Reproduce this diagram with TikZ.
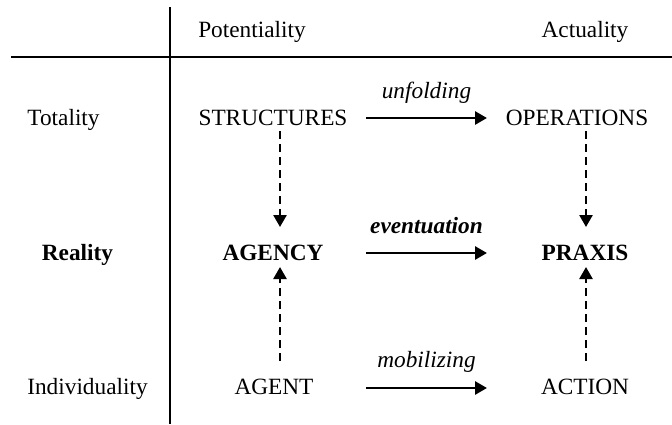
\documentclass[tikz,border=0pt]{standalone}
\usepackage{fontspec}
\setmainfont{Liberation Serif}
\usetikzlibrary{arrows.meta,calc}
\begin{document}
\begin{tikzpicture}[x=1pt,y=-1pt,
  txt/.style={inner sep=0pt,anchor=base,font=\fontsize{23.3}{28}\selectfont},
  rule/.style={line width=2.2pt},
  flow/.style={line width=2.8pt,-{Triangle[length=12pt,width=13pt]}},
  dasharrow/.style={line width=2.5pt,dash pattern=on 8pt off 5pt,-{Triangle[length=12pt,width=13pt]}}]
\useasboundingbox (0,0) rectangle (672,424);
% table rules
\coordinate (vtop) at (170,7);
\coordinate (vbot) at (170,424);
\coordinate (hl) at (11,57);
\coordinate (hr) at (672,57);
\draw[rule] (vtop) -- (vbot);
\draw[rule] (hl) -- (hr);
% headers
\node[txt] (pot) at (252,37) {Potentiality};
\node[txt] (act) at (585,37) {Actuality};
% row labels
\node[txt] (tot) at (63.5,125) {Totality};
\node[txt] (rea) at (77.5,260) {\bfseries Reality};
\node[txt] (ind) at (87.5,394) {Individuality};
% cells
\node[txt] (str) at (273,125) {STRUCTURES};
\node[txt] (opr) at (577,125) {OPERATIONS};
\node[txt] (agy) at (273,260) {\bfseries AGENCY};
\node[txt] (prx) at (585,260) {\bfseries PRAXIS};
\node[txt] (agt) at (274,394) {AGENT};
\node[txt] (acn) at (585,394) {ACTION};
% horizontal arrows
\draw[flow] ($(str.base)+(93,-7)$) -- ($(opr.base)+(-90,-7)$)
  node[txt,midway,yshift=20pt] (unf) {\itshape unfolding};
\draw[flow] ($(agy.base)+(93,-7)$) -- ($(prx.base)+(-98,-7)$)
  node[txt,midway,yshift=20pt] (evt) {\bfseries\itshape eventuation};
\draw[flow] ($(agt.base)+(92,-6)$) -- ($(acn.base)+(-98,-6)$)
  node[txt,midway,yshift=21pt] (mob) {\itshape mobilizing};
% vertical dashed arrows
\draw[dasharrow] ($(str.base)+(7,6)$) -- ($(agy.base)+(7,-33)$);
\draw[dasharrow] ($(opr.base)+(9,6)$) -- ($(prx.base)+(1,-33)$);
\draw[dasharrow] ($(agt.base)+(6,-33)$) -- ($(agy.base)+(7,7)$);
\draw[dasharrow] ($(acn.base)+(1,-33)$) -- ($(prx.base)+(1,7)$);
\end{tikzpicture}
\end{document}
